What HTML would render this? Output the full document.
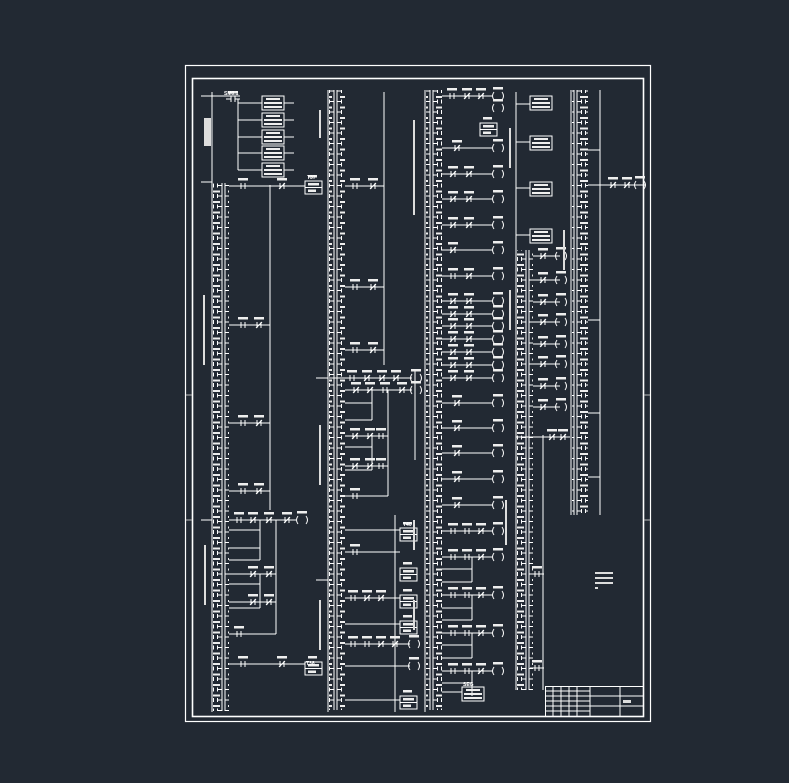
<!DOCTYPE html>
<html><head><meta charset="utf-8"><style>
html,body{margin:0;padding:0;background:#222933;}
svg{display:block}
text{font-family:"Liberation Sans",sans-serif;fill:#fff;font-size:5px;font-weight:bold}
</style></head><body>
<svg width="789" height="783" viewBox="0 0 789 783" xmlns="http://www.w3.org/2000/svg">
<defs>
<pattern id="stk" x="0" y="0" width="16" height="10.5" patternUnits="userSpaceOnUse">
<g stroke="#fff" stroke-width="1" fill="none">
<line x1="1" y1="0" x2="1" y2="10.5"/><line x1="14" y1="0" x2="14" y2="10.5"/>
<line x1="1" y1="7" x2="5" y2="7"/><line x1="10" y1="7" x2="14" y2="7"/>
<line x1="5.5" y1="5" x2="5.5" y2="9"/><line x1="9.5" y1="5" x2="9.5" y2="9"/>
</g><rect x="4" y="1.5" width="8" height="2" fill="#eee"/>
</pattern>
<g id="no"><line x1="0" y1="0" x2="5" y2="0"/><line x1="5" y1="-3" x2="5" y2="3"/><line x1="9" y1="-3" x2="9" y2="3"/><line x1="9" y1="0" x2="14" y2="0"/><rect x="2" y="-8" width="10" height="2.5" fill="#eee" stroke="none"/></g>
<g id="nc"><line x1="0" y1="0" x2="5" y2="0"/><line x1="5" y1="-3" x2="5" y2="3"/><line x1="9" y1="-3" x2="9" y2="3"/><line x1="4" y1="3" x2="10" y2="-3"/><line x1="9" y1="0" x2="14" y2="0"/><rect x="2" y="-8" width="10" height="2.5" fill="#eee" stroke="none"/></g>
<g id="coil"><path d="M2,-4 Q-1,0 2,4 M10,-4 Q13,0 10,4" fill="none"/><rect x="1" y="-9" width="10" height="2.5" fill="#eee" stroke="none"/></g>
<g id="tmr"><rect x="0" y="-5" width="17" height="13" fill="none"/><line x1="0" y1="1.5" x2="17" y2="1.5"/><rect x="3" y="-3" width="11" height="2.5" fill="#eee" stroke="none"/><rect x="3" y="3.5" width="8" height="2.5" fill="#eee" stroke="none"/><rect x="3" y="-11" width="9" height="2.5" fill="#eee" stroke="none"/></g>
<g id="box3"><rect x="0" y="0" width="22" height="14" fill="none"/><rect x="4" y="2" width="14" height="2" fill="#eee" stroke="none"/><rect x="2" y="6" width="18" height="2" fill="#eee" stroke="none"/><rect x="2" y="10" width="18" height="2" fill="#eee" stroke="none"/></g>
</defs>
<g stroke="#fff" fill="none" stroke-width="1.2">
<rect x="185.5" y="65.5" width="465" height="656"/>
<rect x="192.5" y="78.5" width="451" height="638" stroke-width="1.6"/>
</g>
<g stroke="#bbb" stroke-width="1">
<line x1="186" y1="395" x2="192" y2="395"/><line x1="644" y1="395" x2="650" y2="395"/>
<line x1="186" y1="520" x2="192" y2="520"/><line x1="644" y1="520" x2="650" y2="520"/>
</g>
<rect x="213" y="183" width="16" height="528" fill="url(#stk)"/>
<rect x="329" y="90" width="16" height="620" fill="url(#stk)"/>
<rect x="426" y="90" width="16" height="620" fill="url(#stk)"/>
<rect x="517" y="250" width="16" height="440" fill="url(#stk)"/>
<rect x="572" y="90" width="16" height="425" fill="url(#stk)"/>
<g stroke="#fff" stroke-width="1" fill="none">
<line x1="212" y1="92" x2="212" y2="712"/>
<line x1="201" y1="96" x2="212" y2="96"/><line x1="201" y1="182" x2="212" y2="182"/>
<line x1="201" y1="520" x2="212" y2="520"/>
<line x1="328" y1="90" x2="328" y2="712"/>
<line x1="316" y1="378" x2="328" y2="378"/><line x1="316" y1="580" x2="328" y2="580"/>
<line x1="425" y1="90" x2="425" y2="712"/>
<line x1="516" y1="92" x2="516" y2="690"/>
<line x1="571" y1="90" x2="571" y2="515"/>
<line x1="270" y1="185" x2="270" y2="510"/>
<line x1="384" y1="92" x2="384" y2="365"/>
<line x1="600" y1="90" x2="600" y2="515"/>
<line x1="543" y1="435" x2="543" y2="690"/>
<line x1="415" y1="370" x2="415" y2="460"/>
<line x1="395" y1="515" x2="395" y2="712"/>
<line x1="212" y1="96" x2="240" y2="96"/>
<use href="#no" x="226" y="99"/>
<line x1="238" y1="99" x2="238" y2="170"/>
<line x1="238" y1="103" x2="262" y2="103"/><use href="#box3" x="262" y="96"/><line x1="284" y1="103" x2="294" y2="103"/>
<line x1="238" y1="120" x2="262" y2="120"/><use href="#box3" x="262" y="113"/><line x1="284" y1="120" x2="294" y2="120"/>
<line x1="238" y1="137" x2="262" y2="137"/><use href="#box3" x="262" y="130"/><line x1="284" y1="137" x2="294" y2="137"/>
<line x1="238" y1="153" x2="262" y2="153"/><use href="#box3" x="262" y="146"/><line x1="284" y1="153" x2="294" y2="153"/>
<line x1="238" y1="170" x2="262" y2="170"/><use href="#box3" x="262" y="163"/><line x1="284" y1="170" x2="294" y2="170"/>
<line x1="229" y1="186" x2="305" y2="186"/><use href="#no" x="236" y="186"/><use href="#nc" x="275" y="186"/><use href="#tmr" x="305" y="186"/>
<line x1="229" y1="325" x2="270" y2="325"/><use href="#no" x="236" y="325"/><use href="#nc" x="252" y="325"/>
<line x1="229" y1="423" x2="270" y2="423"/><use href="#no" x="236" y="423"/><use href="#nc" x="252" y="423"/>
<line x1="229" y1="491" x2="270" y2="491"/><use href="#no" x="236" y="491"/><use href="#nc" x="252" y="491"/>
<line x1="229" y1="520" x2="296" y2="520"/><use href="#no" x="232" y="520"/><use href="#nc" x="246" y="520"/><use href="#nc" x="262" y="520"/><use href="#nc" x="280" y="520"/><use href="#coil" x="296" y="520"/>
<line x1="229" y1="530" x2="260" y2="530"/><line x1="260" y1="520" x2="260" y2="560"/>
<line x1="229" y1="548" x2="260" y2="548"/><line x1="229" y1="560" x2="260" y2="560"/>
<line x1="229" y1="574" x2="276" y2="574"/><use href="#nc" x="246" y="574"/><use href="#nc" x="262" y="574"/><line x1="276" y1="520" x2="276" y2="634"/>
<line x1="229" y1="584" x2="260" y2="584"/><line x1="260" y1="574" x2="260" y2="608"/><line x1="229" y1="608" x2="260" y2="608"/>
<line x1="229" y1="602" x2="276" y2="602"/><use href="#nc" x="246" y="602"/><use href="#nc" x="262" y="602"/>
<line x1="229" y1="634" x2="276" y2="634"/><use href="#no" x="232" y="634"/>
<line x1="229" y1="664" x2="305" y2="664"/><use href="#no" x="236" y="664"/><use href="#nc" x="275" y="664"/><use href="#tmr" x="305" y="667"/>
<line x1="345" y1="186" x2="384" y2="186"/><use href="#no" x="348" y="186"/><use href="#nc" x="366" y="186"/>
<line x1="345" y1="287" x2="384" y2="287"/><use href="#no" x="348" y="287"/><use href="#nc" x="366" y="287"/>
<line x1="345" y1="350" x2="384" y2="350"/><use href="#no" x="348" y="350"/><use href="#nc" x="366" y="350"/>
<line x1="329" y1="378" x2="412" y2="378"/><use href="#no" x="345" y="378"/><use href="#nc" x="360" y="378"/><use href="#nc" x="375" y="378"/><use href="#nc" x="389" y="378"/><use href="#coil" x="410" y="378"/>
<line x1="345" y1="390" x2="412" y2="390"/><use href="#nc" x="349" y="390"/><use href="#nc" x="363" y="390"/><use href="#no" x="378" y="390"/><use href="#nc" x="395" y="390"/><use href="#coil" x="410" y="390"/>
<line x1="345" y1="403" x2="372" y2="403"/><line x1="372" y1="390" x2="372" y2="420"/><line x1="345" y1="420" x2="372" y2="420"/>
<line x1="345" y1="436" x2="388" y2="436"/><use href="#nc" x="348" y="436"/><use href="#nc" x="363" y="436"/><use href="#no" x="374" y="436"/><line x1="388" y1="390" x2="388" y2="496"/>
<line x1="345" y1="447" x2="372" y2="447"/><line x1="372" y1="436" x2="372" y2="470"/><line x1="345" y1="470" x2="372" y2="470"/>
<line x1="345" y1="466" x2="388" y2="466"/><use href="#nc" x="348" y="466"/><use href="#nc" x="363" y="466"/><use href="#no" x="374" y="466"/>
<line x1="345" y1="496" x2="388" y2="496"/><use href="#no" x="348" y="496"/>
<line x1="345" y1="530" x2="400" y2="530"/><use href="#tmr" x="400" y="533"/>
<line x1="345" y1="552" x2="400" y2="552"/><use href="#no" x="348" y="552"/><use href="#tmr" x="400" y="573"/>
<line x1="345" y1="598" x2="400" y2="598"/><use href="#no" x="346" y="598"/><use href="#nc" x="360" y="598"/><use href="#nc" x="374" y="598"/><use href="#tmr" x="400" y="600"/>
<line x1="345" y1="624" x2="400" y2="624"/><use href="#tmr" x="400" y="626"/>
<line x1="345" y1="644" x2="410" y2="644"/><use href="#no" x="346" y="644"/><use href="#no" x="360" y="644"/><use href="#nc" x="374" y="644"/><use href="#nc" x="388" y="644"/><use href="#coil" x="408" y="644"/>
<line x1="345" y1="666" x2="410" y2="666"/><use href="#coil" x="408" y="666"/>
<line x1="345" y1="700" x2="400" y2="700"/><use href="#tmr" x="400" y="701"/>
<line x1="442" y1="96" x2="492" y2="96"/><use href="#no" x="445" y="96"/><use href="#nc" x="460" y="96"/><use href="#nc" x="474" y="96"/><use href="#coil" x="492" y="96"/>
<use href="#coil" x="492" y="108"/><use href="#tmr" x="480" y="128"/>
<line x1="442" y1="148" x2="492" y2="148"/><use href="#nc" x="450" y="148"/><use href="#coil" x="492" y="148"/>
<line x1="442" y1="174" x2="492" y2="174"/><use href="#nc" x="446" y="174"/><use href="#nc" x="462" y="174"/><use href="#coil" x="492" y="174"/>
<line x1="442" y1="199" x2="492" y2="199"/><use href="#nc" x="446" y="199"/><use href="#nc" x="462" y="199"/><use href="#coil" x="492" y="199"/>
<line x1="442" y1="225" x2="492" y2="225"/><use href="#nc" x="446" y="225"/><use href="#nc" x="462" y="225"/><use href="#coil" x="492" y="225"/>
<line x1="442" y1="250" x2="492" y2="250"/><use href="#nc" x="446" y="250"/><use href="#coil" x="492" y="250"/>
<line x1="442" y1="276" x2="492" y2="276"/><use href="#no" x="446" y="276"/><use href="#nc" x="462" y="276"/><use href="#coil" x="492" y="276"/>
<line x1="442" y1="301" x2="492" y2="301"/><use href="#nc" x="446" y="301"/><use href="#nc" x="462" y="301"/><use href="#coil" x="492" y="301"/>
<line x1="442" y1="314" x2="492" y2="314"/><use href="#nc" x="446" y="314"/><use href="#nc" x="462" y="314"/><use href="#coil" x="492" y="314"/>
<line x1="442" y1="326" x2="492" y2="326"/><use href="#nc" x="446" y="326"/><use href="#nc" x="462" y="326"/><use href="#coil" x="492" y="326"/>
<line x1="442" y1="339" x2="492" y2="339"/><use href="#nc" x="446" y="339"/><use href="#nc" x="462" y="339"/><use href="#coil" x="492" y="339"/>
<line x1="442" y1="352" x2="492" y2="352"/><use href="#nc" x="446" y="352"/><use href="#nc" x="462" y="352"/><use href="#coil" x="492" y="352"/>
<line x1="442" y1="365" x2="492" y2="365"/><use href="#nc" x="446" y="365"/><use href="#nc" x="462" y="365"/><use href="#coil" x="492" y="365"/>
<line x1="442" y1="378" x2="492" y2="378"/><use href="#nc" x="446" y="378"/><use href="#nc" x="462" y="378"/><use href="#coil" x="492" y="378"/>
<line x1="442" y1="403" x2="492" y2="403"/><use href="#nc" x="450" y="403"/><use href="#coil" x="492" y="403"/>
<line x1="442" y1="428" x2="492" y2="428"/><use href="#nc" x="450" y="428"/><use href="#coil" x="492" y="428"/>
<line x1="442" y1="453" x2="492" y2="453"/><use href="#nc" x="450" y="453"/><use href="#coil" x="492" y="453"/>
<line x1="442" y1="479" x2="492" y2="479"/><use href="#nc" x="450" y="479"/><use href="#coil" x="492" y="479"/>
<line x1="442" y1="505" x2="492" y2="505"/><use href="#nc" x="450" y="505"/><use href="#coil" x="492" y="505"/>
<line x1="442" y1="531" x2="492" y2="531"/><use href="#no" x="446" y="531"/><use href="#no" x="460" y="531"/><use href="#nc" x="474" y="531"/><use href="#coil" x="492" y="531"/>
<line x1="442" y1="557" x2="492" y2="557"/><use href="#no" x="446" y="557"/><use href="#no" x="460" y="557"/><use href="#nc" x="474" y="557"/><use href="#coil" x="492" y="557"/>
<line x1="442" y1="569" x2="472" y2="569"/><line x1="472" y1="557" x2="472" y2="582"/><line x1="442" y1="582" x2="472" y2="582"/>
<line x1="442" y1="595" x2="492" y2="595"/><use href="#no" x="446" y="595"/><use href="#no" x="460" y="595"/><use href="#nc" x="474" y="595"/><use href="#coil" x="492" y="595"/>
<line x1="442" y1="608" x2="472" y2="608"/><line x1="472" y1="595" x2="472" y2="620"/><line x1="442" y1="620" x2="472" y2="620"/>
<line x1="442" y1="633" x2="492" y2="633"/><use href="#no" x="446" y="633"/><use href="#no" x="460" y="633"/><use href="#nc" x="474" y="633"/><use href="#coil" x="492" y="633"/>
<line x1="442" y1="645" x2="472" y2="645"/><line x1="472" y1="633" x2="472" y2="658"/><line x1="442" y1="658" x2="472" y2="658"/>
<line x1="442" y1="671" x2="492" y2="671"/><use href="#no" x="446" y="671"/><use href="#no" x="460" y="671"/><use href="#nc" x="474" y="671"/><use href="#coil" x="492" y="671"/>
<line x1="442" y1="683" x2="472" y2="683"/><line x1="472" y1="671" x2="472" y2="696"/>
<line x1="442" y1="692" x2="462" y2="692"/><use href="#box3" x="462" y="687"/>
<line x1="516" y1="104" x2="530" y2="104"/><use href="#box3" x="530" y="96"/>
<line x1="516" y1="142" x2="530" y2="142"/><use href="#box3" x="530" y="136"/>
<line x1="516" y1="188" x2="530" y2="188"/><use href="#box3" x="530" y="182"/>
<line x1="516" y1="235" x2="530" y2="235"/><use href="#box3" x="530" y="229"/>
<line x1="533" y1="256" x2="560" y2="256"/><use href="#nc" x="536" y="256"/><use href="#coil" x="555" y="256"/>
<line x1="533" y1="280" x2="560" y2="280"/><use href="#nc" x="536" y="280"/><use href="#coil" x="555" y="280"/>
<line x1="533" y1="302" x2="560" y2="302"/><use href="#nc" x="536" y="302"/><use href="#coil" x="555" y="302"/>
<line x1="533" y1="322" x2="560" y2="322"/><use href="#nc" x="536" y="322"/><use href="#coil" x="555" y="322"/>
<line x1="533" y1="344" x2="560" y2="344"/><use href="#nc" x="536" y="344"/><use href="#coil" x="555" y="344"/>
<line x1="533" y1="364" x2="560" y2="364"/><use href="#nc" x="536" y="364"/><use href="#coil" x="555" y="364"/>
<line x1="533" y1="386" x2="560" y2="386"/><use href="#nc" x="536" y="386"/><use href="#coil" x="555" y="386"/>
<line x1="533" y1="407" x2="560" y2="407"/><use href="#nc" x="536" y="407"/><use href="#coil" x="555" y="407"/>
<line x1="516" y1="437" x2="570" y2="437"/><use href="#nc" x="545" y="437"/><use href="#nc" x="556" y="437"/>
<line x1="533" y1="574" x2="543" y2="574"/><use href="#no" x="530" y="574"/>
<line x1="533" y1="668" x2="543" y2="668"/><use href="#no" x="530" y="668"/>
<line x1="588" y1="150" x2="600" y2="150"/><line x1="588" y1="185" x2="645" y2="185"/><use href="#nc" x="606" y="185"/><use href="#nc" x="620" y="185"/><use href="#coil" x="634" y="185"/>
<line x1="588" y1="320" x2="600" y2="320"/><line x1="588" y1="413" x2="600" y2="413"/><line x1="588" y1="477" x2="600" y2="477"/>
<rect x="545.5" y="686.5" width="98" height="30"/>
<line x1="545" y1="696" x2="644" y2="696"/><line x1="545" y1="706" x2="644" y2="706"/>
<line x1="590" y1="686" x2="590" y2="716"/><line x1="620" y1="686" x2="620" y2="716"/>
<line x1="553" y1="686" x2="553" y2="716"/><line x1="561" y1="686" x2="561" y2="716"/><line x1="569" y1="686" x2="569" y2="716"/><line x1="577" y1="686" x2="577" y2="716"/>
<line x1="545" y1="691" x2="590" y2="691"/><line x1="545" y1="701" x2="590" y2="701"/><line x1="545" y1="711" x2="590" y2="711"/>
</g>
<g fill="#ddd">
<rect x="204" y="118" width="7" height="28"/>
<rect x="595" y="572" width="18" height="2"/><rect x="595" y="577" width="18" height="2"/><rect x="595" y="582" width="18" height="2"/><rect x="595" y="587" width="3" height="2"/>
<rect x="623" y="700" width="8" height="3"/>
<rect x="319" y="110" width="2" height="28"/><rect x="413" y="120" width="2" height="95"/><rect x="509" y="128" width="2" height="40"/>
<rect x="203" y="295" width="2" height="70"/><rect x="319" y="425" width="2" height="60"/><rect x="509" y="290" width="2" height="40"/>
<rect x="505" y="500" width="2" height="45"/><rect x="204" y="545" width="2" height="60"/><rect x="319" y="600" width="2" height="50"/>
<rect x="563" y="230" width="2" height="40"/><rect x="413" y="520" width="2" height="30"/><rect x="413" y="600" width="2" height="30"/>
</g>
<text x="224" y="95">SM0.1</text><text x="307" y="179">T37</text><text x="306" y="665">T38</text><text x="403" y="526">T40</text><text x="463" y="686">SEG</text>
</svg>
</body></html>
